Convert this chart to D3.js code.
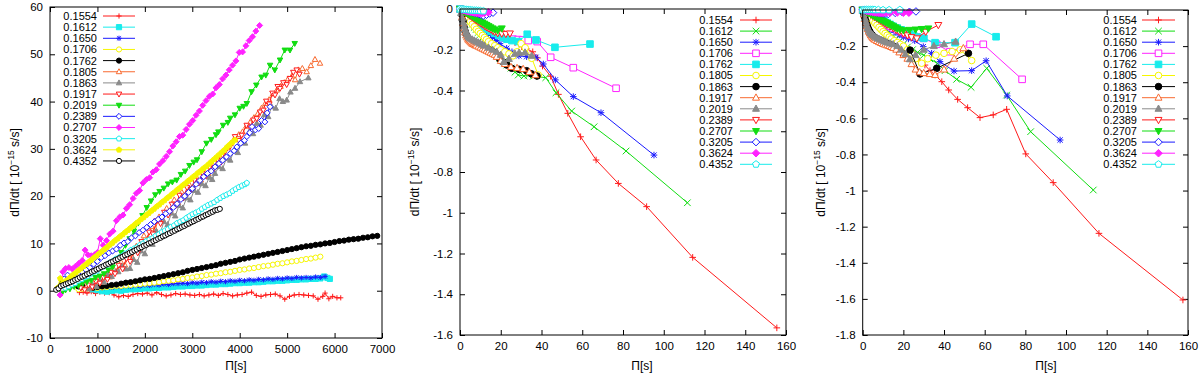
<!DOCTYPE html>
<meta charset="utf-8">
<head>
  <title>dPi/dt versus Pi</title>
</head>

<style>
body {
  margin: 0;
  background: #fff;
  font-family: "Liberation Sans", Helvetica, Arial, sans-serif;
}
text {
  fill: #000;
}
</style>

<body>
  <svg id="chart" width="1200" height="374"></svg>

  <script src="https://cdnjs.cloudflare.com/ajax/libs/d3/7.8.5/d3.min.js"></script>

  <script>
  var labels = ['0.1554', '0.1612', '0.1650', '0.1706', '0.1762', '0.1805', '0.1863',
                '0.1917', '0.2019', '0.2389', '0.2707', '0.3205', '0.3624', '0.4352'];

  // left panel: Pi [s] vs dPi/dt, one list per label
  var leftSeries = [
    [[620,-0.4],[700,-0.3],[780,-0.5],[870,-0.2],[960,-0.6],[1050,-0.3],[1150,-0.5],[1250,-0.4],[1350,-0.9],[1450,-1.3],[1550,-1.0],[1650,-1.2],[1750,-0.8],[1850,-0.6],[1950,-0.7],[2050,-0.5],[2150,-0.9],[2250,-0.4],[2350,-0.8],[2450,-1.1],[2550,-0.9],[2650,-0.6],[2750,-0.8],[2850,-0.7],[2950,-0.9],[3050,-1.0],[3150,-0.8],[3250,-1.1],[3350,-0.9],[3450,-0.7],[3550,-1.0],[3650,-0.6],[3750,-0.8],[3850,-1.1],[3950,-0.9],[4050,-0.8],[4150,-0.5],[4250,-0.3],[4350,-1.0],[4450,-1.2],[4550,-0.9],[4650,-0.8],[4750,-0.7],[4850,-1.1],[4950,-1.8],[5050,-1.2],[5150,-0.9],[5250,-0.8],[5350,-0.9],[5450,-1.0],[5550,-1.1],[5650,-1.8],[5750,-1.2],[5800,-0.5],[5880,-1.7],[5960,-1.2],[6050,-1.5],[6130,-1.5]],
    [[900,0.3],[1000,0.1],[1100,-0.1],[1200,-0.2],[1300,0.0],[1400,0.1],[1500,0.0],[1600,0.2],[1700,0.3],[1800,0.3],[1900,0.4],[2000,0.5],[2100,0.5],[2200,0.6],[2300,0.6],[2400,0.7],[2500,0.7],[2600,0.8],[2700,0.9],[2800,0.9],[2900,1.0],[3000,1.0],[3100,1.1],[3200,1.1],[3300,1.2],[3400,1.3],[3500,1.3],[3600,1.4],[3700,1.4],[3800,1.5],[3900,1.6],[4000,1.6],[4100,1.7],[4200,1.7],[4300,1.8],[4400,1.8],[4500,1.9],[4600,2.0],[4700,2.0],[4800,2.1],[4900,2.1],[5000,2.2],[5100,2.3],[5200,2.3],[5300,2.4],[5400,2.4],[5500,2.5],[5600,2.5],[5700,2.6],[5780,3.0],[5850,2.7],[5900,2.5]],
    [[700,0.4],[800,0.6],[900,0.5],[1000,0.7],[1100,0.6],[1200,0.8],[1300,0.7],[1400,0.9],[1500,0.8],[1600,1.0],[1700,0.9],[1800,1.1],[1900,1.0],[2000,1.2],[2100,1.1],[2200,1.3],[2300,1.2],[2400,1.4],[2500,1.3],[2600,1.5],[2700,1.5],[2800,1.6],[2900,1.5],[3000,1.7],[3100,1.6],[3200,1.8],[3300,1.7],[3400,1.9],[3500,1.8],[3600,2.0],[3700,1.9],[3800,2.1],[3900,2.0],[4000,2.2],[4100,2.1],[4200,2.3],[4300,2.2],[4400,2.4],[4500,2.3],[4600,2.5],[4700,2.4],[4800,2.6],[4900,2.5],[5000,2.7],[5100,2.6],[5200,2.8],[5300,2.7],[5400,2.8],[5500,2.7],[5600,2.9],[5700,2.8],[5800,3.0]],
    [[600,0.3],[700,0.4],[800,0.5],[900,0.6],[1000,0.6],[1100,0.7],[1200,0.8],[1300,0.9],[1400,1.0],[1500,1.0],[1600,1.1],[1700,1.2],[1800,1.3],[1900,1.4],[2000,1.5],[2100,1.6],[2200,1.7],[2300,1.8],[2400,2.0],[2500,2.1],[2600,2.2],[2700,2.4],[2800,2.5],[2900,2.7],[3000,2.8],[3100,3.0],[3200,3.1],[3300,3.3],[3400,3.4],[3500,3.6],[3600,3.7],[3700,3.9],[3800,4.0],[3900,4.2],[4000,4.4],[4100,4.5],[4200,4.7],[4300,4.8],[4400,5.0],[4500,5.2],[4600,5.3],[4700,5.5],[4800,5.7],[4900,5.8],[5000,6.0],[5100,6.2],[5200,6.3],[5300,6.5],[5400,6.7],[5500,6.8],[5600,7.0],[5700,7.2]],
    [[260,1.8],[300,1.6],[400,1.3],[500,1.1],[600,0.9],[700,0.8],[800,0.7],[900,0.6],[1000,0.8],[1100,0.9],[1200,1.0],[1300,1.2],[1400,1.3],[1500,1.5],[1600,1.7],[1700,1.8],[1800,2.0],[1900,2.2],[2000,2.4],[2100,2.5],[2200,2.7],[2300,2.9],[2400,3.1],[2500,3.3],[2600,3.5],[2700,3.7],[2800,3.9],[2900,4.2],[3000,4.4],[3100,4.6],[3200,4.8],[3300,5.0],[3400,5.2],[3500,5.4],[3600,5.7],[3700,5.9],[3800,6.1],[3900,6.3],[4000,6.6],[4100,6.8],[4200,7.0],[4300,7.2],[4400,7.4],[4500,7.6],[4600,7.8],[4700,8.0],[4800,8.2],[4900,8.4],[5000,8.6],[5100,8.8],[5200,9.0],[5300,9.2],[5400,9.4],[5500,9.5],[5600,9.7],[5700,9.8],[5800,10.0],[5900,10.1],[6000,10.3],[6100,10.5],[6200,10.6],[6300,10.8],[6400,10.9],[6500,11.0],[6600,11.2],[6700,11.3],[6800,11.5],[6900,11.6]],
    [[780,1.0],[860,0.6],[940,1.8],[1020,2.2],[1100,1.8],[1180,3.2],[1260,2.9],[1340,4.6],[1420,4.2],[1500,6.0],[1580,5.4],[1660,7.6],[1740,7.0],[1820,9.4],[1900,9.0],[1980,11.6],[2060,11.0],[2140,13.6],[2220,13.0],[2300,15.6],[2380,15.0],[2460,17.4],[2540,17.0],[2620,19.2],[2700,18.6],[2780,20.8],[2860,20.4],[2940,22.4],[3020,21.9],[3100,23.8],[3180,23.4],[3260,25.2],[3340,24.7],[3420,26.8],[3500,26.3],[3580,28.4],[3660,27.9],[3740,30.2],[3820,31.2],[3900,32.4],[3980,33.0],[4060,33.6],[4140,34.8],[4220,35.6],[4300,36.6],[4380,37.4],[4460,38.6],[4540,39.6],[4620,40.4],[4700,41.6],[4780,42.4],[4860,43.2],[4940,44.0],[5020,44.8],[5100,45.4],[5168,44.6],[5236,46.7],[5320,47.0],[5412,46.3],[5500,47.6],[5587,48.9],[5693,48.1]],
    [[820,0.4],[900,1.2],[980,0.9],[1060,2.2],[1140,1.8],[1220,3.4],[1300,3.0],[1380,4.0],[1440,4.0],[1520,5.2],[1600,4.6],[1687,4.7],[1760,6.6],[1840,6.0],[1920,8.4],[2000,7.8],[2080,10.4],[2160,9.8],[2240,12.6],[2320,12.0],[2400,14.6],[2480,14.0],[2560,16.4],[2640,15.8],[2720,18.0],[2800,17.5],[2880,19.6],[2960,19.2],[3040,21.2],[3120,20.8],[3200,22.6],[3280,22.2],[3360,24.0],[3420,23.5],[3479,24.8],[3560,26.2],[3640,25.8],[3720,28.0],[3800,27.6],[3880,29.6],[3960,29.2],[4040,31.4],[4112,31.2],[4200,33.6],[4280,33.2],[4360,35.4],[4440,35.0],[4520,37.2],[4600,36.8],[4674,38.9],[4760,38.6],[4840,40.6],[4910,40.0],[4990,40.3],[5070,42.0],[5166,42.8],[5271,44.2],[5447,45.0]],
    [[650,0.6],[730,0.2],[810,1.2],[890,0.8],[970,2.0],[1050,1.6],[1130,2.8],[1210,2.4],[1290,3.9],[1370,3.6],[1450,5.4],[1530,4.6],[1610,6.8],[1690,6.2],[1770,8.4],[1850,8.0],[1930,10.4],[2010,10.0],[2090,12.4],[2170,12.0],[2250,14.8],[2330,14.2],[2410,16.6],[2490,16.0],[2570,18.3],[2650,18.0],[2730,20.2],[2810,19.6],[2890,21.8],[2970,21.4],[3050,23.4],[3130,22.8],[3210,24.9],[3290,24.3],[3370,26.2],[3450,25.8],[3530,27.8],[3610,27.2],[3690,29.4],[3796,30.5],[3901,32.6],[3980,31.8],[4042,32.9],[4147,35.0],[4220,34.6],[4287,36.1],[4358,36.4],[4430,37.8],[4498,38.2],[4560,40.1],[4624,39.5],[4690,41.8],[4744,41.4],[4800,43.2],[4850,42.8],[4920,44.0],[4990,43.6],[5060,44.9],[5130,46.2],[5201,46.7],[5260,45.8]],
    [[250,-0.5],[330,0.2],[420,0.4],[510,0.9],[600,1.1],[690,1.6],[780,1.9],[870,2.2],[960,2.8],[1050,3.1],[1140,3.6],[1230,4.4],[1320,5.0],[1410,6.5],[1500,8.1],[1590,9.6],[1680,11.0],[1770,12.6],[1860,14.3],[1950,15.9],[2040,17.6],[2130,19.0],[2220,20.3],[2310,21.0],[2400,21.7],[2490,22.6],[2580,23.0],[2670,23.4],[2760,24.6],[2850,25.3],[2940,26.5],[3030,27.2],[3100,27.7],[3200,29.4],[3300,31.2],[3400,32.0],[3500,33.0],[3550,33.6],[3650,35.0],[3750,35.6],[3800,36.5],[3900,37.2],[4000,38.6],[4080,39.0],[4150,39.6],[4250,42.1],[4350,43.5],[4460,45.2],[4550,45.6],[4640,47.7],[4740,46.7],[4850,48.8],[4950,50.9],[5060,50.9],[5160,52.3]],
    [[300,2.5],[370,3.3],[440,2.3],[520,2.8],[600,3.4],[680,3.9],[760,4.4],[840,4.9],[920,5.6],[1000,6.2],[1080,7.0],[1160,7.4],[1240,8.0],[1320,8.4],[1400,8.8],[1480,9.6],[1560,10.1],[1640,10.4],[1720,11.2],[1800,11.6],[1880,12.3],[1960,12.8],[2040,13.4],[2120,14.0],[2200,14.6],[2280,15.1],[2360,15.6],[2440,16.3],[2520,16.8],[2600,17.6],[2680,18.4],[2760,19.3],[2840,20.0],[2920,20.8],[3000,21.6],[3080,22.5],[3160,23.3],[3240,24.1],[3320,24.8],[3400,25.3],[3480,26.2],[3560,26.9],[3640,27.6],[3720,28.3],[3800,29.0],[3880,29.6],[3940,30.4],[4020,31.2],[4100,31.8],[4150,32.6],[4210,33.4],[4260,34.7],[4330,34.0],[4400,34.3],[4460,36.0],[4530,35.7],[4580,37.6],[4640,38.9]],
    [[211,-0.9],[270,4.0],[330,4.7],[400,4.9],[470,4.6],[540,5.2],[610,5.8],[680,6.4],[740,8.6],[800,7.6],[870,7.4],[940,7.6],[1000,8.1],[1060,11.0],[1120,9.6],[1190,10.6],[1260,12.0],[1330,12.6],[1400,14.8],[1470,15.6],[1540,16.0],[1610,17.4],[1680,18.2],[1750,19.5],[1820,20.6],[1890,21.2],[1960,22.8],[2030,23.5],[2100,23.9],[2170,25.1],[2240,25.6],[2310,26.8],[2380,27.5],[2450,28.4],[2520,29.4],[2590,30.6],[2660,31.5],[2730,32.6],[2800,32.9],[2870,34.1],[2940,35.2],[3010,36.0],[3080,37.1],[3150,38.0],[3220,39.2],[3290,40.2],[3360,41.1],[3430,41.6],[3500,42.9],[3570,43.6],[3640,44.8],[3710,45.6],[3780,46.7],[3850,47.7],[3920,48.6],[3990,50.4],[4060,50.5],[4130,51.8],[4200,52.9],[4270,53.7],[4340,54.9],[4420,56.1]],
    [[320,0.6],[390,0.9],[460,1.3],[530,1.6],[600,2.1],[665,2.4],[730,2.8],[795,3.1],[860,3.6],[925,4.0],[990,4.2],[1055,4.8],[1120,5.1],[1185,5.4],[1250,5.9],[1315,6.2],[1380,6.7],[1445,7.0],[1510,7.3],[1575,7.8],[1640,8.1],[1705,8.6],[1770,8.9],[1835,9.2],[1900,9.7],[1965,10.0],[2030,10.5],[2095,10.8],[2160,11.1],[2225,11.6],[2290,11.9],[2355,12.4],[2420,12.7],[2485,13.0],[2550,13.5],[2615,13.8],[2680,14.3],[2745,14.6],[2810,14.9],[2875,15.4],[2940,15.8],[3005,16.2],[3070,16.5],[3135,16.8],[3200,17.3],[3265,17.7],[3330,18.1],[3395,18.4],[3460,18.7],[3525,19.2],[3590,19.6],[3655,20.0],[3720,20.3],[3785,20.6],[3850,21.1],[3915,21.5],[3980,21.9],[4045,22.2],[4110,22.5],[4150,22.8]],
    [[160,0.6],[215,2.6],[270,1.6],[325,2.0],[380,2.4],[435,2.9],[490,3.4],[545,3.8],[600,4.3],[655,4.7],[710,5.2],[765,5.6],[820,6.1],[875,6.5],[930,7.0],[985,7.4],[1040,7.9],[1095,8.3],[1150,8.8],[1205,9.2],[1260,9.7],[1315,10.1],[1370,10.6],[1425,11.0],[1480,11.5],[1535,11.9],[1590,12.4],[1645,12.8],[1700,13.3],[1755,13.7],[1810,14.2],[1865,14.6],[1920,15.1],[1975,15.5],[2030,16.0],[2085,16.4],[2140,16.9],[2195,17.3],[2250,17.8],[2305,18.2],[2360,18.7],[2415,19.1],[2470,19.6],[2525,20.0],[2580,20.5],[2635,20.9],[2690,21.4],[2745,21.8],[2800,22.3],[2855,22.7],[2910,23.2],[2965,23.6],[3020,24.1],[3075,24.5],[3130,25.0],[3185,25.4],[3240,25.9],[3295,26.3],[3350,26.8],[3405,27.3],[3460,27.8],[3515,28.3],[3570,28.8],[3625,29.3],[3680,29.8],[3735,30.4],[3790,30.9],[3845,31.4],[3900,31.9]],
    [[130,0.2],[180,0.5],[230,1.0],[280,1.2],[330,1.4],[380,1.6],[430,1.8],[480,2.0],[530,2.3],[580,2.5],[630,2.8],[680,3.0],[730,3.2],[780,3.5],[830,3.7],[880,4.0],[930,4.2],[980,4.5],[1030,4.7],[1080,5.0],[1130,5.2],[1180,5.5],[1230,5.7],[1280,6.0],[1330,6.2],[1380,6.5],[1430,6.7],[1480,7.0],[1530,7.2],[1580,7.5],[1630,7.7],[1680,8.0],[1730,8.2],[1780,8.5],[1830,8.7],[1880,9.0],[1930,9.2],[1980,9.5],[2030,9.7],[2080,10.0],[2130,10.2],[2180,10.5],[2230,10.7],[2280,11.0],[2330,11.2],[2380,11.5],[2430,11.7],[2480,12.0],[2530,12.2],[2580,12.5],[2630,12.7],[2680,13.0],[2730,13.2],[2780,13.5],[2830,13.7],[2880,14.0],[2930,14.2],[2980,14.5],[3030,14.7],[3080,15.0],[3130,15.2],[3180,15.5],[3230,15.7],[3280,16.0],[3330,16.2],[3380,16.5],[3430,16.7],[3480,17.0],[3530,17.1],[3580,17.3]]
  ];

  // middle panel
  var midSeries = [
    [[0,0],[1,-0.005],[2,-0.01],[3,-0.016],[4,-0.022],[5,-0.028],[6,-0.034],[7,-0.04],[8,-0.046],[9,-0.052],[10,-0.058],[12,-0.07],[14,-0.082],[16,-0.094],[18,-0.106],[20,-0.118],[22,-0.13],[24.5,-0.145],[27,-0.165],[30.3,-0.185],[32.5,-0.195],[35.7,-0.21],[38,-0.24],[40.5,-0.28],[44.5,-0.33],[48.3,-0.419],[52.9,-0.512],[59.2,-0.627],[66.8,-0.741],[77.7,-0.856],[91.6,-0.97],[114.2,-1.219],[155.5,-1.565]],
    [[0,0],[1,-0.01],[2,-0.02],[3,-0.035],[4,-0.05],[5,-0.06],[6,-0.075],[7,-0.09],[8,-0.1],[9,-0.115],[10,-0.125],[11,-0.14],[12,-0.15],[13,-0.165],[14,-0.175],[15,-0.19],[16.5,-0.2],[18,-0.22],[19.5,-0.24],[21.3,-0.259],[23,-0.275],[25,-0.29],[27,-0.31],[28.6,-0.324],[31.4,-0.329],[33.5,-0.325],[36,-0.33],[42.1,-0.337],[47.1,-0.411],[54.8,-0.501],[65.8,-0.578],[81.5,-0.697],[111.6,-0.951]],
    [[0,0],[1.5,-0.01],[3,-0.025],[4.5,-0.04],[6,-0.055],[7.5,-0.07],[9,-0.08],[10.5,-0.095],[12,-0.11],[14,-0.125],[16,-0.14],[18,-0.155],[19.6,-0.17],[22.9,-0.193],[25.5,-0.21],[28.9,-0.23],[32.7,-0.234],[37.3,-0.237],[40.9,-0.27],[46.8,-0.348],[55.6,-0.43],[69.2,-0.509],[95.2,-0.717]],
    [[0,0],[1.5,-0.01],[3,-0.02],[4.5,-0.035],[6,-0.045],[7.5,-0.055],[9,-0.065],[10.5,-0.075],[12,-0.085],[13.5,-0.095],[15,-0.105],[17,-0.115],[19,-0.125],[21,-0.133],[23.5,-0.14],[26,-0.148],[28.5,-0.15],[30.7,-0.152],[33.5,-0.155],[37.9,-0.16],[44.5,-0.237],[55.6,-0.288],[76.6,-0.389]],
    [[0,0],[1.5,-0.012],[3,-0.025],[4.5,-0.038],[6,-0.05],[7.5,-0.06],[9,-0.072],[10.5,-0.082],[12,-0.092],[13.5,-0.1],[15,-0.11],[17,-0.12],[19,-0.13],[21,-0.14],[23,-0.148],[25.5,-0.155],[28.6,-0.16],[33,-0.124],[37.3,-0.152],[46.6,-0.188],[63.8,-0.172]],
    [[0,0],[1,-0.012],[2,-0.025],[3,-0.037],[4,-0.05],[5,-0.062],[6,-0.075],[7,-0.087],[8,-0.1],[9,-0.11],[10,-0.12],[11,-0.13],[12,-0.14],[13,-0.15],[14,-0.16],[15.5,-0.17],[17,-0.18],[18.5,-0.19],[20,-0.2],[22,-0.21],[24,-0.22],[26,-0.23],[28,-0.21],[30,-0.17],[32,-0.19],[35.2,-0.242],[38.4,-0.324]],
    [[1,-0.03],[1.5,-0.06],[2,-0.09],[2.5,-0.11],[3,-0.125],[3.5,-0.135],[4,-0.145],[5,-0.155],[6,-0.165],[7,-0.17],[8,-0.175],[9,-0.18],[10,-0.185],[11,-0.19],[12,-0.195],[13,-0.2],[14,-0.2],[15,-0.205],[16,-0.21],[17,-0.215],[18,-0.225],[19.5,-0.245],[21,-0.26],[23,-0.275],[25.4,-0.291],[29,-0.296],[32.7,-0.303],[35,-0.318],[37.8,-0.329]],
    [[1,-0.04],[1.5,-0.07],[2,-0.095],[2.5,-0.115],[3,-0.13],[3.5,-0.14],[4,-0.15],[4.5,-0.155],[5,-0.16],[5.5,-0.165],[6,-0.17],[6.5,-0.172],[7,-0.175],[7.5,-0.178],[8,-0.18],[9,-0.185],[10,-0.19],[11,-0.195],[12,-0.2],[13,-0.205],[14,-0.21],[15,-0.215],[16,-0.22],[17,-0.225],[18,-0.235],[20,-0.255],[22,-0.27],[25,-0.285],[28,-0.29],[31,-0.295],[34,-0.31],[37,-0.325]],
    [[0.5,-0.02],[1,-0.045],[1.5,-0.065],[2,-0.085],[2.5,-0.1],[3,-0.115],[3.5,-0.125],[4,-0.135],[4.5,-0.14],[5,-0.145],[6,-0.15],[7,-0.155],[8,-0.16],[9,-0.165],[10,-0.17],[11,-0.175],[12,-0.18],[14,-0.19],[16,-0.2],[18,-0.21],[20,-0.225],[21.5,-0.26],[24,-0.245],[27,-0.22],[29,-0.215],[31.9,-0.214],[35.2,-0.23]],
    [[0,0],[1,-0.005],[2,-0.012],[3,-0.02],[4,-0.027],[5,-0.034],[6,-0.041],[7,-0.048],[8,-0.055],[9,-0.062],[10,-0.068],[11,-0.075],[12,-0.082],[13,-0.088],[14,-0.094],[15,-0.1],[16,-0.106],[17,-0.112],[18.5,-0.118],[20.5,-0.12],[22.5,-0.122],[24.5,-0.12]],
    [[0,0],[1,-0.006],[2,-0.012],[3,-0.018],[4,-0.024],[5,-0.03],[6,-0.036],[7,-0.042],[8,-0.048],[9,-0.054],[10,-0.06],[11,-0.066],[12,-0.072],[13,-0.078],[14,-0.084],[15,-0.09],[16,-0.095],[17,-0.1],[18.5,-0.105],[20.5,-0.095]],
    [[0,0],[1,-0.003],[2,-0.006],[3,-0.008],[4,-0.01],[5,-0.013],[6,-0.015],[7,-0.018],[8,-0.02],[9,-0.023],[10,-0.027],[11.4,-0.033],[13,-0.028],[14.5,-0.022],[16.2,-0.018]],
    [[0,0],[1,-0.003],[2,-0.006],[3,-0.008],[4,-0.011],[5,-0.013],[6,-0.015],[7,-0.017],[8,-0.019],[9,-0.02],[10,-0.021],[11,-0.02],[12,-0.019],[13.9,-0.016]],
    [[0,0],[1,-0.001],[2,-0.002],[3,-0.003],[4,-0.004],[5,-0.005],[6,-0.006],[7,-0.007],[8,-0.007],[9,-0.008],[10,-0.009],[11.5,-0.01]]
  ];

  // right panel
  var rightSeries = [
    [[0,0],[1.5,-0.015],[3,-0.03],[4.5,-0.05],[6,-0.07],[7.5,-0.09],[9,-0.11],[10.5,-0.13],[12,-0.15],[13.5,-0.17],[15,-0.19],[16.5,-0.205],[17.8,-0.22],[19.2,-0.236],[22.5,-0.255],[25.7,-0.268],[28.1,-0.283],[30.6,-0.305],[33.1,-0.336],[35.6,-0.36],[38.9,-0.397],[42.3,-0.443],[46.7,-0.495],[51.6,-0.541],[57.7,-0.596],[64.2,-0.581],[70.8,-0.55],[80.2,-0.797],[93.7,-0.956],[116.2,-1.237],[157.5,-1.606]],
    [[0,0],[1.5,-0.012],[3,-0.025],[4.5,-0.04],[6,-0.055],[7.5,-0.07],[9,-0.085],[10.5,-0.1],[12,-0.115],[13.5,-0.13],[15,-0.145],[16.5,-0.16],[18,-0.175],[20,-0.19],[22,-0.205],[24.5,-0.22],[27,-0.235],[30,-0.25],[33,-0.27],[36.7,-0.296],[40.5,-0.336],[46.2,-0.384],[53.3,-0.428],[61,-0.323],[70.8,-0.471],[82.6,-0.674],[113.4,-0.997]],
    [[0,0],[1.5,-0.01],[3,-0.022],[4.5,-0.035],[6,-0.048],[7.5,-0.06],[9,-0.072],[10.5,-0.084],[12,-0.096],[14,-0.11],[16,-0.124],[18,-0.138],[20,-0.15],[22.5,-0.16],[25.6,-0.17],[29.8,-0.203],[33.9,-0.24],[38,-0.286],[44.9,-0.338],[53.6,-0.336],[60.7,-0.281],[71.1,-0.476],[97.1,-0.72]],
    [[0,0],[1.5,-0.01],[3,-0.02],[4.5,-0.03],[6,-0.04],[7.5,-0.05],[9,-0.06],[10.5,-0.07],[12,-0.08],[13.5,-0.09],[15,-0.1],[17,-0.11],[19,-0.12],[21,-0.13],[23.5,-0.14],[26.5,-0.15],[29.8,-0.157],[36.4,-0.19],[42.9,-0.231],[52.8,-0.19],[59.3,-0.19],[78.4,-0.384]],
    [[0,0],[1.5,-0.008],[3,-0.016],[4.5,-0.025],[6,-0.034],[7.5,-0.043],[9,-0.052],[10.5,-0.06],[12,-0.07],[13.5,-0.08],[15,-0.09],[17,-0.1],[19,-0.11],[21,-0.12],[23,-0.13],[25,-0.14],[27,-0.15],[30.1,-0.157],[35.6,-0.181],[45.4,-0.181],[53.6,-0.078],[65.6,-0.148]],
    [[0,0],[1,-0.012],[2,-0.024],[3,-0.036],[4,-0.048],[5,-0.06],[6,-0.072],[7,-0.084],[8,-0.096],[9,-0.108],[10,-0.12],[11,-0.13],[12,-0.14],[13,-0.15],[14,-0.16],[15.5,-0.17],[17,-0.18],[18.5,-0.19],[20,-0.2],[22,-0.22],[24,-0.24],[26,-0.27],[29,-0.295],[32,-0.27],[36,-0.25],[40,-0.24],[44,-0.23],[48,-0.22],[53.6,-0.28]],
    [[0.5,-0.02],[1,-0.04],[1.5,-0.06],[2,-0.08],[2.5,-0.095],[3,-0.11],[3.5,-0.12],[4,-0.13],[4.5,-0.137],[5,-0.143],[5.5,-0.148],[6,-0.153],[7,-0.16],[8,-0.165],[9,-0.17],[10,-0.175],[11,-0.18],[12,-0.185],[13,-0.19],[14,-0.195],[15,-0.2],[16.5,-0.21],[18,-0.225],[20,-0.244],[23.3,-0.222],[28.2,-0.354],[36.4,-0.323],[52,-0.24]],
    [[0.5,-0.025],[1,-0.05],[1.5,-0.07],[2,-0.09],[2.5,-0.105],[3,-0.12],[3.5,-0.13],[4,-0.14],[4.5,-0.148],[5,-0.155],[5.5,-0.16],[6,-0.165],[7,-0.172],[8,-0.178],[9,-0.183],[10,-0.188],[11,-0.192],[12,-0.196],[13,-0.2],[14,-0.205],[15,-0.21],[16.5,-0.22],[18,-0.235],[20,-0.25],[22,-0.27],[24,-0.3],[26,-0.33],[28,-0.345],[30,-0.35],[33,-0.355],[35.6,-0.36],[40,-0.33],[45,-0.27],[49.5,-0.212]],
    [[0.5,-0.02],[1,-0.045],[1.5,-0.065],[2,-0.085],[2.5,-0.1],[3,-0.112],[3.5,-0.122],[4,-0.13],[4.5,-0.136],[5,-0.14],[6,-0.148],[7,-0.155],[8,-0.16],[9,-0.165],[10,-0.17],[11,-0.175],[12,-0.18],[13.5,-0.185],[15,-0.19],[17,-0.2],[19,-0.22],[21,-0.245],[23.2,-0.273],[26,-0.25],[30,-0.22],[35,-0.2],[40,-0.19],[45.7,-0.176]],
    [[0,0],[1,-0.005],[2,-0.011],[3,-0.018],[4,-0.025],[5,-0.032],[6,-0.039],[7,-0.046],[8,-0.053],[9,-0.06],[10,-0.067],[11,-0.074],[12,-0.081],[13.5,-0.09],[15,-0.1],[16.5,-0.11],[18,-0.12],[20,-0.13],[22,-0.14],[24,-0.15],[26.6,-0.157],[31,-0.12],[37.2,-0.083]],
    [[0,0],[1,-0.006],[2,-0.012],[3,-0.018],[4,-0.024],[5,-0.03],[6,-0.036],[7,-0.042],[8,-0.048],[9,-0.054],[10,-0.06],[11,-0.066],[12,-0.072],[13,-0.078],[14,-0.084],[15,-0.09],[16,-0.096],[17,-0.102],[18.3,-0.108],[20,-0.112],[23,-0.11],[26,-0.108],[29,-0.105],[32.3,-0.102]],
    [[0,0],[1,-0.002],[2,-0.004],[3,-0.006],[4,-0.008],[5,-0.01],[6,-0.012],[7,-0.014],[8,-0.016],[9,-0.018],[10,-0.019],[11,-0.02],[12.6,-0.022],[16,-0.016],[19.5,-0.012],[23,-0.01],[26.2,-0.008]],
    [[0,0],[1,-0.002],[2,-0.005],[3,-0.007],[4,-0.009],[5,-0.011],[6,-0.013],[7,-0.014],[8,-0.015],[9,-0.016],[10,-0.016],[11.5,-0.015],[13.4,-0.015],[17,-0.014],[20,-0.015],[22.7,-0.015]],
    [[0,0],[1,0.001],[2,0.002],[3,0.002],[4,0.002],[5,0.002],[6,0.001],[7.7,0.001],[10,0],[13,0],[18.3,0.001]]
  ];

  var xTicksLeft = [0, 1000, 2000, 3000, 4000, 5000, 6000, 7000];
  var yTicksLeft = [-10, 0, 10, 20, 30, 40, 50, 60];
  var xTicksRight = [0, 20, 40, 60, 80, 100, 120, 140, 160];
  var yTicksMid = [-1.6, -1.4, -1.2, -1, -0.8, -0.6, -0.4, -0.2, 0];
  var yTicksRight = [-1.8, -1.6, -1.4, -1.2, -1, -0.8, -0.6, -0.4, -0.2, 0];

  var col = {
    red: '#ff1a1a', green: '#11dd11', blue: '#1a1aff', magenta: '#ff22ff',
    cyan: '#18ecec', yellow: '#f6f600', black: '#000000', orange: '#f86a30', gray: '#8a8a8a'
  };

  var leftStyle = [
    ['plus', 'red'], ['squareF', 'cyan'], ['star', 'blue'], ['circle', 'yellow'],
    ['circleF', 'black'], ['triUp', 'orange'], ['triUpF', 'gray'], ['triDown', 'red'],
    ['triDownF', 'green'], ['diamond', 'blue'], ['diamondF', 'magenta'], ['pentagon', 'cyan'],
    ['pentagonF', 'yellow'], ['circle', 'black']
  ];
  var rightStyle = [
    ['plus', 'red'], ['cross', 'green'], ['star', 'blue'], ['square', 'magenta'],
    ['squareF', 'cyan'], ['circle', 'yellow'], ['circleF', 'black'], ['triUp', 'orange'],
    ['triUpF', 'gray'], ['triDown', 'red'], ['triDownF', 'green'], ['diamond', 'blue'],
    ['diamondF', 'magenta'], ['pentagon', 'cyan']
  ];

  function markerPath(shape, r) {
    var s = shape.replace('F', '');
    if (s == 'plus') return 'M' + (-r) + ',0H' + r + 'M0,' + (-r) + 'V' + r;
    if (s == 'cross') return 'M' + (-r) + ',' + (-r) + 'L' + r + ',' + r + 'M' + (-r) + ',' + r + 'L' + r + ',' + (-r);
    if (s == 'star') return markerPath('plus', r) + markerPath('cross', r * 0.8);
    if (s == 'square') return 'M' + (-r) + ',' + (-r) + 'H' + r + 'V' + r + 'H' + (-r) + 'Z';
    if (s == 'circle') return 'M' + r + ',0A' + r + ',' + r + ' 0 1,1 ' + (-r) + ',0A' + r + ',' + r + ' 0 1,1 ' + r + ',0Z';
    if (s == 'triUp') return 'M0,' + (-r * 1.15) + 'L' + (r * 1.05) + ',' + (r * 0.75) + 'L' + (-r * 1.05) + ',' + (r * 0.75) + 'Z';
    if (s == 'triDown') return 'M0,' + (r * 1.15) + 'L' + (r * 1.05) + ',' + (-r * 0.75) + 'L' + (-r * 1.05) + ',' + (-r * 0.75) + 'Z';
    if (s == 'diamond') return 'M0,' + (-r * 1.15) + 'L' + (r * 1.15) + ',0L0,' + (r * 1.15) + 'L' + (-r * 1.15) + ',0Z';
    if (s == 'pentagon') {
      var p = d3.range(5).map(function(k) {
        var a = (-90 + 72 * k) * Math.PI / 180;
        return (r * 1.1 * Math.cos(a)).toFixed(2) + ',' + (r * 1.1 * Math.sin(a)).toFixed(2);
      });
      return 'M' + p.join('L') + 'Z';
    }
    return '';
  }

  function markerFill(shape, c) {
    if (shape.indexOf('F') > 0) return c;
    if (shape == 'plus' || shape == 'cross' || shape == 'star') return 'none';
    return '#fff';
  }

  function fmt(d) {
    var v = +d.toFixed(1);
    return v < 0 ? '-' + Math.abs(v) : String(v);
  }

  var panels = [
    {left: 50, right: 382, top: 7, bottom: 338, xDom: [0, 7000], yDom: [-10, 60],
     xTicks: xTicksLeft, yTicks: yTicksLeft, series: leftSeries, style: leftStyle, r: 2.6,
     keyText: 97, keyL0: 103, keyL1: 135, keyY: 16, keyDy: 11.15, xlabX: 236, ylabX: 15},
    {left: 460, right: 786, top: 9, bottom: 335, xDom: [0, 160], yDom: [-1.6, 0],
     xTicks: xTicksRight, yTicks: yTicksMid, series: midSeries, style: rightStyle, r: 3.3,
     keyText: 733, keyL0: 740, keyL1: 772, keyY: 20, keyDy: 11.1, xlabX: 642, ylabX: 415},
    {left: 862.7, right: 1188, top: 10, bottom: 335, xDom: [0, 160], yDom: [-1.8, 0],
     xTicks: xTicksRight, yTicks: yTicksRight, series: rightSeries, style: rightStyle, r: 3.3,
     keyText: 1137, keyL0: 1142, keyL1: 1175, keyY: 20, keyDy: 11.1, xlabX: 1046, ylabX: 821}
  ];

  var svg = d3.select('#chart');

  panels.forEach(function(p) {
    var x = d3.scaleLinear().domain(p.xDom).range([p.left, p.right]);
    var y = d3.scaleLinear().domain(p.yDom).range([p.bottom, p.top]);
    var g = svg.append('g');

    // axes, ticks pointing inwards on all four sides
    g.append('g')
      .attr('transform', 'translate(0,' + p.bottom + ')')
      .call(d3.axisBottom(x).tickValues(p.xTicks).tickSize(-5).tickPadding(7).tickFormat(fmt));
    g.append('g')
      .attr('transform', 'translate(0,' + p.top + ')')
      .call(d3.axisTop(x).tickValues(p.xTicks).tickSize(-5).tickFormat(''));
    g.append('g')
      .attr('transform', 'translate(' + p.left + ',0)')
      .call(d3.axisLeft(y).tickValues(p.yTicks).tickSize(-5).tickPadding(7).tickFormat(fmt));
    g.append('g')
      .attr('transform', 'translate(' + p.right + ',0)')
      .call(d3.axisRight(y).tickValues(p.yTicks).tickSize(-5).tickFormat(''));
    g.selectAll('.domain').remove();
    g.selectAll('.tick text')
      .style('font-family', '"Liberation Sans", Helvetica, Arial, sans-serif')
      .style('font-size', '11.5px')
      .attr('fill', '#000');

    var line = d3.line()
      .x(function(d) { return x(d[0]); })
      .y(function(d) { return y(d[1]); });

    p.series.forEach(function(pts, i) {
      var shape = p.style[i][0];
      var c = col[p.style[i][1]];
      g.append('path')
        .datum(pts)
        .attr('d', line)
        .attr('fill', 'none')
        .attr('stroke', c)
        .attr('stroke-width', 1);
      g.append('g')
        .selectAll('path')
        .data(pts)
        .enter()
        .append('path')
        .attr('transform', function(d) { return 'translate(' + x(d[0]) + ',' + y(d[1]) + ')'; })
        .attr('d', markerPath(shape, p.r))
        .attr('fill', markerFill(shape, c))
        .attr('stroke', c)
        .attr('stroke-width', 1);
    });

    g.append('rect')
      .attr('x', p.left)
      .attr('y', p.top)
      .attr('width', p.right - p.left)
      .attr('height', p.bottom - p.top)
      .attr('fill', 'none')
      .attr('stroke', '#000')
      .attr('stroke-width', 1);

    // key
    var key = g.append('g');
    labels.forEach(function(lab, i) {
      var ky = p.keyY + i * p.keyDy;
      var shape = p.style[i][0];
      var c = col[p.style[i][1]];
      key.append('text')
        .attr('x', p.keyText)
        .attr('y', ky)
        .attr('dy', '0.36em')
        .attr('text-anchor', 'end')
        .style('font-size', '11px')
        .text(lab);
      key.append('line')
        .attr('x1', p.keyL0).attr('x2', p.keyL1)
        .attr('y1', ky).attr('y2', ky)
        .attr('stroke', c).attr('stroke-width', 1);
      key.append('path')
        .attr('transform', 'translate(' + ((p.keyL0 + p.keyL1) / 2) + ',' + ky + ')')
        .attr('d', markerPath(shape, p.r))
        .attr('fill', markerFill(shape, c))
        .attr('stroke', c)
        .attr('stroke-width', 1);
    });

    // axis titles
    g.append('text')
      .attr('x', p.xlabX)
      .attr('y', 370)
      .attr('text-anchor', 'middle')
      .style('font-size', '12px')
      .text('\u03A0[s]');

    var yl = g.append('text')
      .attr('transform', 'translate(' + p.ylabX + ',' + ((p.top + p.bottom) / 2) + ') rotate(-90)')
      .attr('text-anchor', 'middle')
      .attr('dy', '0.35em')
      .style('font-size', '12px');
    yl.append('tspan').text('d\u03A0/dt [ 10');
    yl.append('tspan').attr('dy', '-5').style('font-size', '8.5px').text('\u221215');
    yl.append('tspan').attr('dy', '5').text(' s/s]');
  });
  </script>
</body>
</html>
